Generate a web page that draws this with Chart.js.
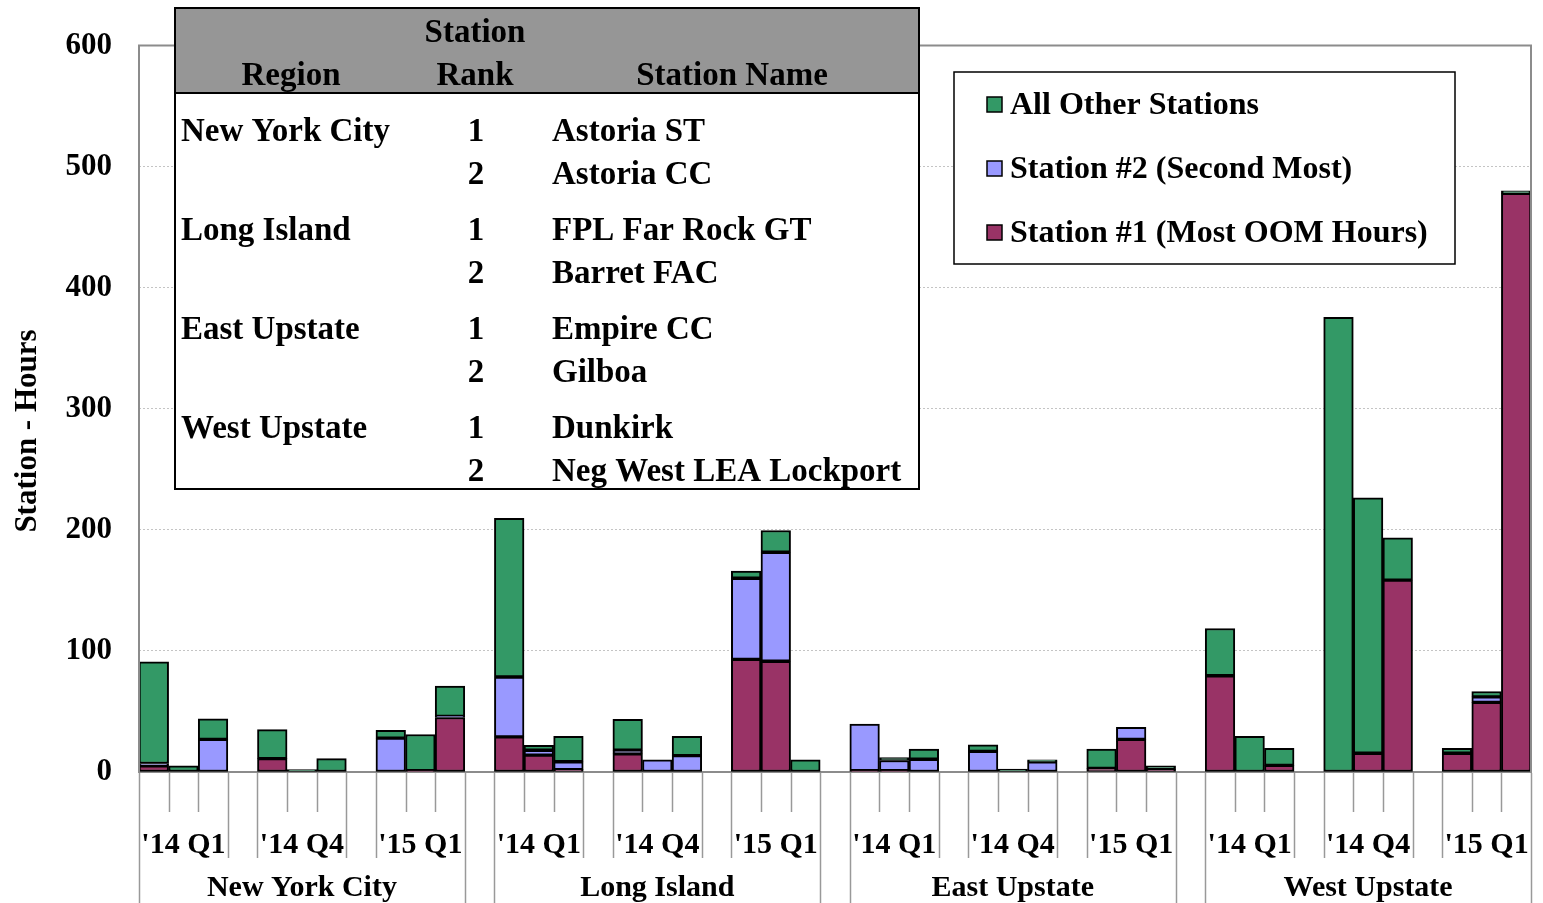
<!DOCTYPE html>
<html>
<head>
<meta charset="utf-8">
<script src="https://cdn.jsdelivr.net/npm/chart.js@4/dist/chart.umd.min.js"></script>
<style>
  html, body { margin: 0; padding: 0; background: #fff; }
  canvas { display: block; }
</style>
</head>
<body>
<canvas id="oomChart" width="1543" height="903"></canvas>
<script>
// ---- Data -------------------------------------------------------------
const regions = ['New York City', 'Long Island', 'East Upstate', 'West Upstate'];
const quarters = ["'14 Q1", "'14 Q4", "'15 Q1"];
const yTicks = [0, 100, 200, 300, 400, 500, 600];

// Monthly OOM station-hours; per region: 3 months of '14 Q1, '14 Q4, '15 Q1
const station1Hours = [
  5, 0, 0,      11, 0, 0,      0, 1, 45,          // New York City
  29, 14, 2,    15, 0, 0,      93, 91.5, 0,       // Long Island
  1, 1, 0,      0, 0, 0,       3, 27, 2,          // East Upstate
  79.5, 0, 5.5, 0, 15.5, 158.5, 15.5, 57.5, 478   // West Upstate
];
const station2Hours = [
  2, 0, 27,     0, 0, 0,       28, 0, 1,
  49.5, 4, 6.5, 3, 10, 13.5,   67, 90, 0,
  38.5, 8.5, 10.5, 17, 0, 8.5, 0, 10, 0,
  0, 0, 0,      0, 0, 0,       0, 4.5, 0
];
const otherHours = [
  84, 5, 17,    24, 2, 11,     6.5, 30, 25,
  131, 4, 21,   25.5, 0, 16,   6, 18, 10,
  0, 2.5, 8.5,  5.5, 2.5, 1.5, 16, 0, 3,
  39, 29.5, 14, 375.5, 211, 35, 4, 4.5, 2
];

// Station key table
const tableHeadTop = ['', 'Station', ''];
const tableHead = ['Region', 'Rank', 'Station Name'];
const tableRows = [
  ['New York City', '1', 'Astoria ST'],
  ['', '2', 'Astoria CC'],
  ['Long Island', '1', 'FPL Far Rock GT'],
  ['', '2', 'Barret FAC'],
  ['East Upstate', '1', 'Empire CC'],
  ['', '2', 'Gilboa'],
  ['West Upstate', '1', 'Dunkirk'],
  ['', '2', 'Neg West LEA Lockport']
];

// ---- Build category slots (blank slots separate quarters and regions) --
const labels = [], s1 = [], s2 = [], so = [], slots = [];
regions.forEach((reg, r) => {
  quarters.forEach((qt, q) => {
    for (let m = 0; m < 3; m++) {
      const k = r * 9 + q * 3 + m;
      labels.push(reg + ' ' + qt + ' M' + (m + 1));
      s1.push(station1Hours[k] || null);
      s2.push(station2Hours[k] || null);
      so.push(otherHours[k] || null);
      slots.push({ r, q, m });
    }
    if (q < quarters.length - 1) {
      labels.push(''); s1.push(null); s2.push(null); so.push(null);
      slots.push({ gap: 'quarter' });
    }
  });
  if (r < regions.length - 1) {
    labels.push(' '); s1.push(null); s2.push(null); so.push(null);
    slots.push({ gap: 'region' });
  }
});

const FONT = '"Liberation Serif", "Times New Roman", serif';
const AXIS_GRAY = '#8c8c8c';

// ---- Custom drawing: frame, multi-level x axis, title, key table, legend
const decorations = {
  id: 'decorations',
  afterDraw(chart) {
    const ctx = chart.ctx;
    const xs = chart.scales.x;
    const area = chart.chartArea;
    const n = labels.length;
    const px = i => xs.getPixelForValue(i);
    const boundary = b => b === 0 ? xs.left : (b === n ? xs.right : (px(b - 1) + px(b)) / 2);

    ctx.save();
    // plot frame (left, top and right)
    ctx.strokeStyle = AXIS_GRAY;
    ctx.lineWidth = 2;
    ctx.beginPath();
    ctx.moveTo(area.left, area.bottom);
    ctx.lineTo(area.left, area.top);
    ctx.lineTo(area.right, area.top);
    ctx.lineTo(area.right, area.bottom);
    ctx.stroke();

    // category divider ticks
    ctx.strokeStyle = '#999999';
    ctx.lineWidth = 1.5;
    for (let b = 0; b <= n; b++) {
      const a = slots[b - 1], c = slots[b];
      let end;
      if (!a || !c || a.gap === 'region' || c.gap === 'region') end = chart.height;
      else if (a.gap === 'quarter' || c.gap === 'quarter') end = 858;
      else end = 812;
      const x = Math.round(boundary(b)) + 0.5;
      ctx.beginPath();
      ctx.moveTo(x, area.bottom + 1);
      ctx.lineTo(x, end);
      ctx.stroke();
    }

    // quarter and region labels
    ctx.fillStyle = '#000';
    ctx.textAlign = 'center';
    ctx.textBaseline = 'middle';
    ctx.font = 'bold 30px ' + FONT;
    slots.forEach((s, i) => {
      if (s.gap === undefined && s.m === 1) ctx.fillText(quarters[s.q], px(i), 845);
    });
    regions.forEach((reg, r) => {
      const first = slots.findIndex(s => s.r === r && s.q === 0 && s.m === 0);
      const last = slots.findIndex(s => s.r === r && s.q === 2 && s.m === 2);
      ctx.fillText(reg, (boundary(first) + boundary(last + 1)) / 2, 888);
    });

    // y axis title
    ctx.save();
    ctx.translate(28, 431);
    ctx.rotate(-Math.PI / 2);
    ctx.font = 'bold 31px ' + FONT;
    ctx.fillText('Station - Hours', 0, 0);
    ctx.restore();

    // station key table
    const tx = 175, ty = 8, tw = 744, th = 481, headH = 85;
    ctx.fillStyle = '#fff';
    ctx.fillRect(tx, ty, tw, th);
    ctx.fillStyle = '#969696';
    ctx.fillRect(tx, ty, tw, headH);
    ctx.strokeStyle = '#000';
    ctx.lineWidth = 2;
    ctx.strokeRect(tx, ty, tw, th);
    ctx.beginPath();
    ctx.moveTo(tx, ty + headH);
    ctx.lineTo(tx + tw, ty + headH);
    ctx.stroke();

    ctx.fillStyle = '#000';
    ctx.font = 'bold 33px ' + FONT;
    const headX = [291, 475, 732];
    ctx.textAlign = 'center';
    tableHeadTop.forEach((t, j) => { if (t) ctx.fillText(t, headX[j], 33); });
    tableHead.forEach((t, j) => ctx.fillText(t, headX[j], 76));
    const rowY = [132, 175, 231, 274, 330, 373, 429, 472];
    tableRows.forEach((row, i) => {
      ctx.textAlign = 'left';
      if (row[0]) ctx.fillText(row[0], 181, rowY[i]);
      ctx.textAlign = 'center';
      ctx.fillText(row[1], 476, rowY[i]);
      ctx.textAlign = 'left';
      ctx.fillText(row[2], 552, rowY[i]);
    });

    // legend
    const lx = 954, ly = 72, lw = 501, lh = 192;
    ctx.fillStyle = '#fff';
    ctx.fillRect(lx, ly, lw, lh);
    ctx.strokeStyle = '#000';
    ctx.lineWidth = 1.5;
    ctx.strokeRect(lx, ly, lw, lh);
    const items = chart.data.datasets.slice().reverse();
    ctx.font = 'bold 32px ' + FONT;
    ctx.textAlign = 'left';
    items.forEach((ds, i) => {
      const y = 106 + i * 64;
      ctx.fillStyle = ds.backgroundColor;
      ctx.fillRect(987, y - 9, 15, 15);
      ctx.strokeStyle = '#000';
      ctx.lineWidth = 1.5;
      ctx.strokeRect(987, y - 9, 15, 15);
      ctx.fillStyle = '#000';
      ctx.fillText(ds.label, 1010, y);
    });
    ctx.restore();
  }
};

const barStyle = { borderColor: '#000', borderWidth: 2, borderSkipped: false,
                   barPercentage: 1, categoryPercentage: 1, stack: 'hours' };

new Chart(document.getElementById('oomChart'), {
  type: 'bar',
  data: {
    labels,
    datasets: [
      Object.assign({ label: 'Station #1 (Most OOM Hours)', data: s1, backgroundColor: '#993366' }, barStyle),
      Object.assign({ label: 'Station #2 (Second Most)', data: s2, backgroundColor: '#9999FF' }, barStyle),
      Object.assign({ label: 'All Other Stations', data: so, backgroundColor: '#339966' }, barStyle)
    ]
  },
  options: {
    responsive: false,
    animation: false,
    layout: { padding: { top: 45, right: 12, left: 0, bottom: 0 } },
    plugins: { legend: { display: false }, tooltip: { enabled: false } },
    scales: {
      x: {
        stacked: true,
        ticks: { display: false },
        grid: { display: false },
        border: { display: true, color: AXIS_GRAY, width: 2 },
        afterFit: s => { s.height = 131; }
      },
      y: {
        stacked: true,
        min: yTicks[0],
        max: yTicks[yTicks.length - 1],
        afterBuildTicks: s => { s.ticks = yTicks.map(v => ({ value: v })); },
        ticks: { color: '#000', padding: 27, font: { family: FONT, size: 31, weight: 'bold' } },
        grid: {
          drawTicks: false,
          color: c => (c.tick && (c.tick.value === 0 || c.tick.value === 600)) ? 'rgba(0,0,0,0)' : '#c4c4c4',
          lineWidth: 1
        },
        // dotted grid lines; the solid left axis line is drawn with the frame
        border: { display: false, dash: [2, 2] },
        afterFit: s => { s.width = 139; }
      }
    }
  },
  plugins: [decorations]
});
</script>
</body>
</html>
